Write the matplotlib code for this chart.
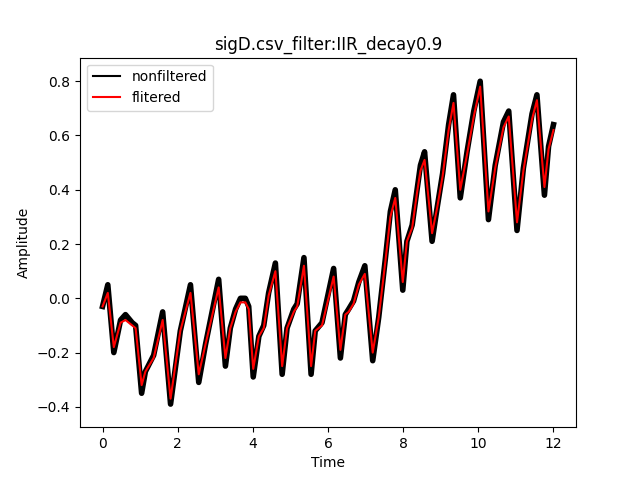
import matplotlib
matplotlib.use("Agg")
import matplotlib.pyplot as plt

# key points (time, amplitude)
time = [0.0, 0.14, 0.30, 0.48, 0.61, 0.79, 0.88, 1.04, 1.14, 1.36, 1.60, 1.81,
        2.07, 2.34, 2.56, 2.74, 3.09, 3.27, 3.40, 3.54, 3.67, 3.80, 3.89, 4.01,
        4.16, 4.29, 4.42, 4.60, 4.78, 4.91, 5.09, 5.18, 5.36, 5.55, 5.66, 5.84,
        6.15, 6.33, 6.46, 6.55, 6.68, 6.82, 6.98, 7.19, 7.35, 7.53, 7.66, 7.79,
        7.99, 8.10, 8.24, 8.37, 8.46, 8.57, 8.77, 8.90, 9.05, 9.21, 9.34, 9.52,
        9.70, 9.88, 10.05, 10.27, 10.45, 10.67, 10.81, 11.03, 11.20, 11.43, 11.56,
        11.76, 11.87, 12.0]

filtered = [-0.03, 0.02, -0.18, -0.09, -0.08, -0.10, -0.11, -0.32, -0.27, -0.22, -0.08, -0.37,
            -0.12, 0.02, -0.28, -0.17, 0.04, -0.22, -0.11, -0.05, -0.015, -0.015, -0.04, -0.26,
            -0.14, -0.11, 0.01, 0.10, -0.25, -0.11, -0.05, -0.03, 0.12, -0.25, -0.12, -0.10,
            0.08, -0.19, -0.06, -0.05, -0.02, 0.05, 0.09, -0.20, -0.07, 0.14, 0.30, 0.37,
            0.06, 0.21, 0.26, 0.39, 0.47, 0.51, 0.24, 0.33, 0.45, 0.62, 0.72, 0.40,
            0.53, 0.67, 0.78, 0.32, 0.48, 0.63, 0.67, 0.28, 0.47, 0.66, 0.73,
            0.41, 0.55, 0.62]

nonfiltered = [-0.03, 0.05, -0.20, -0.08, -0.06, -0.09, -0.10, -0.35, -0.27, -0.21, -0.05, -0.39,
               -0.12, 0.05, -0.31, -0.17, 0.07, -0.25, -0.11, -0.04, 0.0, 0.0, -0.03, -0.29,
               -0.14, -0.10, 0.02, 0.13, -0.28, -0.11, -0.04, -0.02, 0.15, -0.28, -0.12, -0.09,
               0.11, -0.22, -0.06, -0.04, -0.01, 0.06, 0.12, -0.23, -0.07, 0.15, 0.32, 0.40,
               0.03, 0.21, 0.27, 0.40, 0.49, 0.54, 0.21, 0.33, 0.46, 0.64, 0.75, 0.37,
               0.54, 0.69, 0.80, 0.29, 0.49, 0.65, 0.69, 0.25, 0.48, 0.68, 0.75,
               0.38, 0.56, 0.64]

fig, ax = plt.subplots(figsize=(6.4, 4.8), dpi=100)
ax.plot(time, nonfiltered, color="black", lw=4, solid_joinstyle="round", label="nonfiltered")
ax.plot(time, filtered, color="red", lw=1.5, solid_joinstyle="round", label="flitered")
ax.set_xlim(-0.6, 12.6)
ax.set_ylim(-0.475, 0.887)
ax.set_title("sigD.csv_filter:IIR_decay0.9")
ax.set_xlabel("Time")
ax.set_ylabel("Amplitude")
leg = ax.legend(loc="upper left")
for h in leg.legend_handles:
    h.set_linewidth(1.5)
fig.savefig("out.png")
